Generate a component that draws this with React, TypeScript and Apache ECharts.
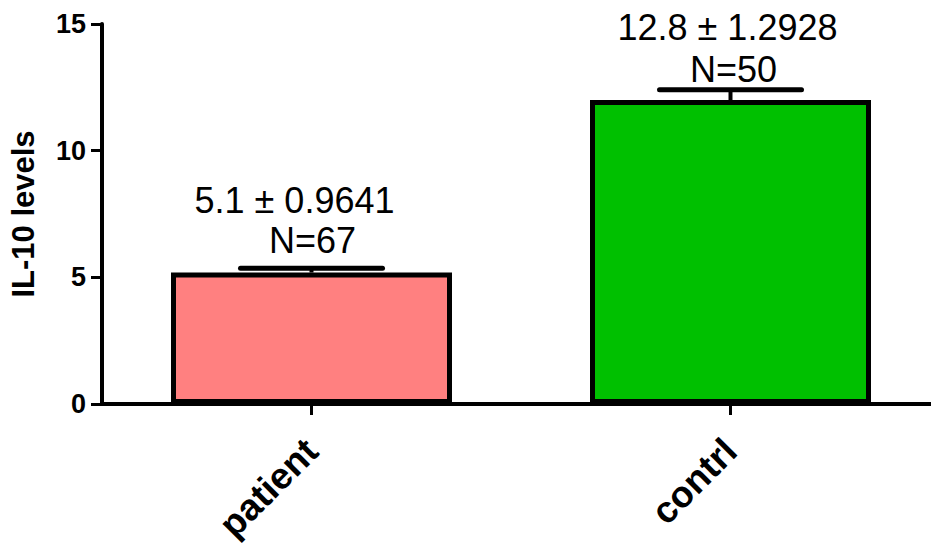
import React, { useEffect, useRef } from 'react';
import * as echarts from 'echarts';

const categories = ['patient', 'contrl'];
const means = [5.19, 12.0];
const errors = [0.17, 0.4];
const barColors = ['#FF8080', '#00C000'];
const statLabels = ['5.1 ± 0.9641', '12.8 ± 1.2928'];
const countLabels = ['N=67', 'N=50'];
const statLabelY = [8.05, 14.85];
const countLabelY = [6.47, 13.2];
const yMin = 0;
const yMax = 15;
const yStep = 5;

const FONT = "'Liberation Sans', Arial, Helvetica, sans-serif";

export default function App() {
  const ref = useRef<HTMLDivElement>(null);

  useEffect(() => {
    if (!ref.current) return;
    const chart = echarts.init(ref.current, undefined, { renderer: 'svg' });

    const statDx = [-17, -3];
    const countDx = [1, 3];

    const option: any = {
      animation: false,
      backgroundColor: '#ffffff',
      grid: { left: 102, right: -9, top: 24, bottom: 141, containLabel: false, outerBoundsMode: 'none' },
      xAxis: {
        type: 'category',
        data: categories,
        boundaryGap: true,
        axisLine: { show: true, lineStyle: { color: '#000', width: 4 } },
        axisTick: { show: true, alignWithLabel: true, length: 11, lineStyle: { color: '#000', width: 3 } },
        axisLabel: {
          rotate: 45,
          margin: 41,
          color: '#000',
          fontFamily: FONT,
          fontWeight: 'bold',
          fontSize: 37,
        },
        splitLine: { show: false },
      },
      yAxis: {
        type: 'value',
        min: yMin,
        max: yMax,
        interval: yStep,
        name: 'IL-10 levels',
        nameLocation: 'middle',
        nameRotate: 90,
        nameGap: 63,
        nameTextStyle: { color: '#000', fontFamily: FONT, fontWeight: 'bold', fontSize: 31 },
        axisLine: { show: true, lineStyle: { color: '#000', width: 4 } },
        axisTick: { show: true, length: 11, lineStyle: { color: '#000', width: 3 } },
        axisLabel: { margin: 16, color: '#000', fontFamily: FONT, fontWeight: 'bold', fontSize: 27 },
        splitLine: { show: false },
      },
      series: [
        {
          type: 'bar',
          data: means.map((v, i) => ({
            value: v,
            itemStyle: { color: barColors[i], borderColor: '#000', borderWidth: 5 },
          })),
          barWidth: 281,
          z: 2,
        },
        {
          type: 'custom',
          z: 3,
          clip: false,
          data: means.map((m, i) => [i, m, m + errors[i]]),
          renderItem: (params: any, api: any) => {
            const idx = api.value(0);
            const base = api.coord([idx, api.value(1)]);
            const top = api.coord([idx, api.value(2)]);
            const half = 71;
            const st = { stroke: '#000', lineWidth: 5, lineCap: 'round' };
            return {
              type: 'group',
              children: [
                { type: 'line', shape: { x1: top[0], y1: base[1], x2: top[0], y2: top[1] }, style: { stroke: '#000', lineWidth: 4 } },
                { type: 'line', shape: { x1: top[0] - half, y1: top[1], x2: top[0] + half, y2: top[1] }, style: st },
              ],
            };
          },
        },
        {
          type: 'custom',
          z: 4,
          clip: false,
          data: categories.map((c, i) => [i, statLabelY[i], countLabelY[i]]),
          renderItem: (params: any, api: any) => {
            const idx = api.value(0);
            const i = params.dataIndex;
            const p1 = api.coord([idx, api.value(1)]);
            const p2 = api.coord([idx, api.value(2)]);
            const ts = (text: string) => ({
              text,
              fill: '#000',
              fontFamily: FONT,
              fontSize: 36,
              fontWeight: 'normal',
              align: 'center',
              verticalAlign: 'middle',
            });
            return {
              type: 'group',
              children: [
                { type: 'text', x: p1[0] + statDx[i], y: p1[1], style: ts(statLabels[i]) },
                { type: 'text', x: p2[0] + countDx[i], y: p2[1], style: ts(countLabels[i]) },
              ],
            };
          },
        },
      ],
    };

    chart.setOption(option);
    return () => chart.dispose();
  }, []);

  return (
    <div
      ref={ref}
      style={{ position: 'fixed', left: 0, top: 0, width: 931, height: 545, background: '#fff' }}
    />
  );
}
